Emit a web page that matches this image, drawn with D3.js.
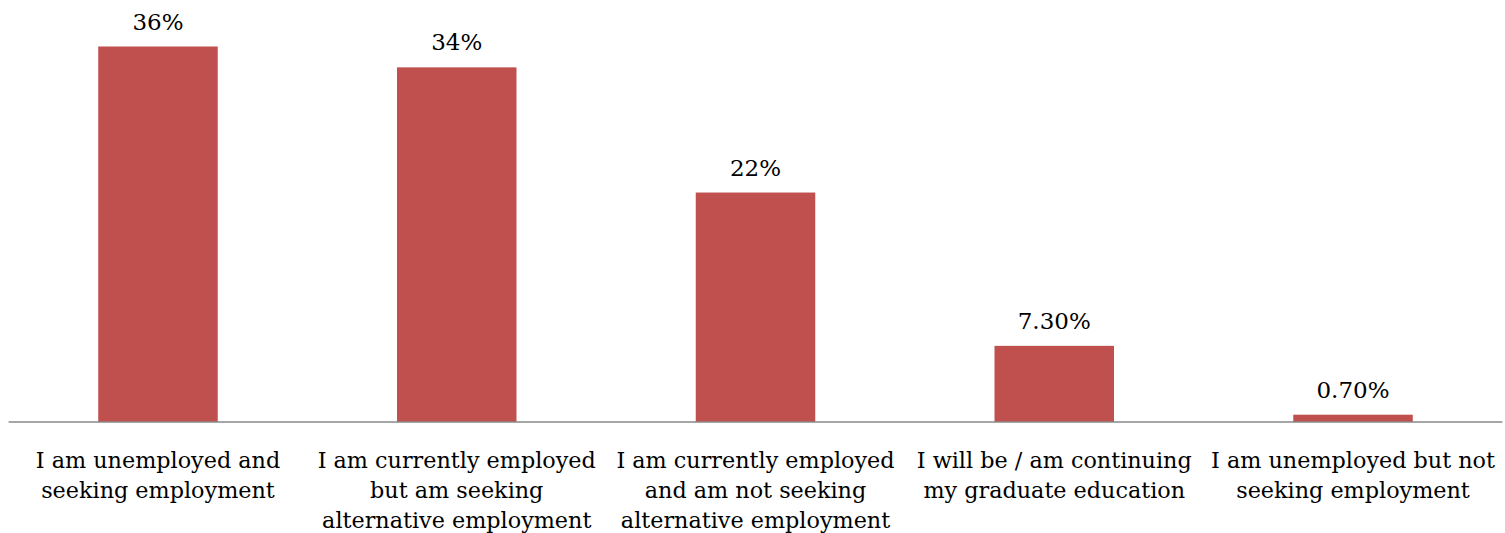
<!DOCTYPE html>
<html>
<head>
<meta charset="utf-8">
<script src="https://cdn.jsdelivr.net/npm/d3@7"></script>
<style>
  html, body { margin: 0; padding: 0; background: #fff; }
  svg { display: block; }
  text { font-family: "DejaVu Serif", serif; fill: #000; }
</style>
</head>
<body>
<svg id="chart" width="1505" height="533"></svg>
<script>
// Employment status of respondents (percent)
const categories = [
  ["I am unemployed and", "seeking employment"],
  ["I am currently employed", "but am seeking", "alternative employment"],
  ["I am currently employed", "and am not seeking", "alternative employment"],
  ["I will be / am continuing", "my graduate education"],
  ["I am unemployed but not", "seeking employment"]
];
const values = [36, 34, 22, 7.3, 0.7];
const valueLabels = ["36%", "34%", "22%", "7.30%", "0.70%"];

const svg = d3.select("#chart");
const baseline = 422;
const left = 8.6, right = 1502.4;

const x = d3.scaleBand()
  .domain(d3.range(values.length))
  .range([left, right])
  .paddingInner(0.6)
  .paddingOuter(0.3);

const y = d3.scaleLinear()
  .domain([0, 36])
  .range([baseline, 46.5]);

// bars
svg.append("g").selectAll("rect")
  .data(values)
  .join("rect")
  .attr("x", (d, i) => x(i))
  .attr("y", d => y(d))
  .attr("width", x.bandwidth())
  .attr("height", d => baseline - y(d))
  .attr("fill", "#c0504d");

// category axis line
svg.append("line")
  .attr("x1", left).attr("x2", right)
  .attr("y1", baseline).attr("y2", baseline)
  .attr("stroke", "#898989")
  .attr("stroke-width", 1.5);

// value labels
svg.append("g").selectAll("text")
  .data(values)
  .join("text")
  .attr("x", (d, i) => x(i) + x.bandwidth() / 2)
  .attr("y", d => y(d) - 17)
  .attr("text-anchor", "middle")
  .attr("font-size", 23)
  .text((d, i) => valueLabels[i]);

// category labels
const cat = svg.append("g").selectAll("text")
  .data(categories)
  .join("text")
  .attr("text-anchor", "middle")
  .attr("font-size", 22.3)
  .attr("transform", (d, i) => `translate(${x(i) + x.bandwidth() / 2},0)`);
cat.selectAll("tspan")
  .data(d => d)
  .join("tspan")
  .attr("x", 0)
  .attr("y", (d, j) => 468 + j * 30)
  .text(d => d);
</script>
</body>
</html>
